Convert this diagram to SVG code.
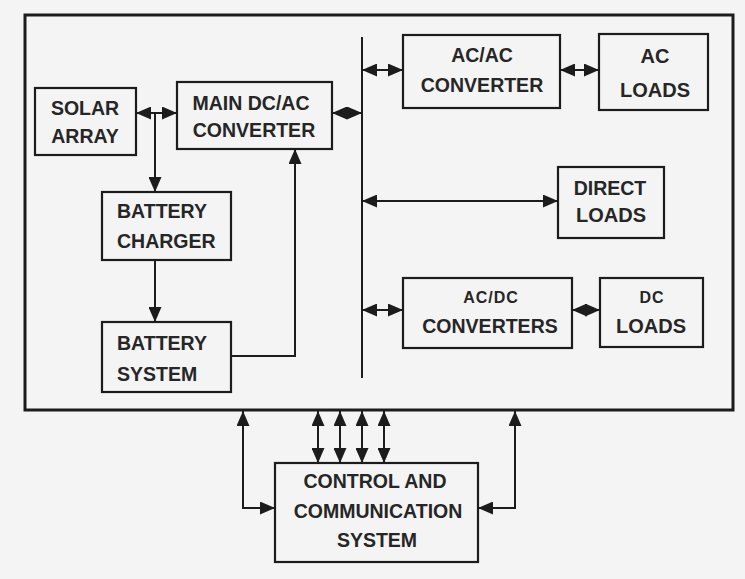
<svg xmlns="http://www.w3.org/2000/svg" width="745" height="579" viewBox="0 0 745 579">
<defs>
<marker id="ah" viewBox="0 0 15 13" refX="15" refY="6.5" markerWidth="15" markerHeight="13" markerUnits="userSpaceOnUse" orient="auto-start-reverse">
<path d="M0,0 L15,6.5 L0,13 z" fill="#1c1c1c"/>
</marker>
<style>
.box{fill:none;stroke:#1c1c1c;stroke-width:2.2}
.frame{fill:none;stroke:#1c1c1c;stroke-width:3}
.ln{fill:none;stroke:#1c1c1c;stroke-width:2}
.t{font-family:"Liberation Sans",Arial,sans-serif;font-weight:bold;font-size:19.5px;fill:#262626}
.c{text-anchor:middle}
.s{font-size:16px;letter-spacing:1px}
</style>
</defs>
<rect width="745" height="579" fill="#f4f4f4"/>
<rect class="frame" x="25" y="15" width="708" height="395"/>
<line class="ln" x1="362" y1="37" x2="362" y2="378"/>

<g id="solar"><rect class="box" x="35" y="88" width="101" height="67"/><text class="t c" x="85" y="115">SOLAR</text><text class="t c" x="85" y="143">ARRAY</text></g>
<g id="maindcac"><rect class="box" x="177" y="82" width="155" height="67"/><text class="t c" x="251" y="110">MAIN DC/AC</text><text class="t c" x="254" y="137">CONVERTER</text></g>
<g id="charger"><rect class="box" x="102" y="192" width="129" height="68"/><text class="t" x="117" y="218">BATTERY</text><text class="t" x="117" y="248">CHARGER</text></g>
<g id="battery"><rect class="box" x="102" y="322" width="129" height="70"/><text class="t" x="117" y="350">BATTERY</text><text class="t" x="117" y="381">SYSTEM</text></g>
<g id="acac"><rect class="box" x="403" y="35" width="157" height="73"/><text class="t c" x="482" y="62">AC/AC</text><text class="t c" x="482" y="92">CONVERTER</text></g>
<g id="acloads"><rect class="box" x="599" y="34" width="109" height="76"/><text class="t c" x="655" y="63" style="font-size:20px">AC</text><text class="t c" x="655" y="97" style="font-size:20px">LOADS</text></g>
<g id="directloads"><rect class="box" x="558" y="167" width="106" height="71"/><text class="t c" x="610" y="195">DIRECT</text><text class="t c" x="611" y="222" style="font-size:20px">LOADS</text></g>
<g id="acdc"><rect class="box" x="403" y="278" width="169" height="70"/><text class="t c s" x="491" y="303">AC/DC</text><text class="t c" x="490" y="333">CONVERTERS</text></g>
<g id="dcloads"><rect class="box" x="600" y="278" width="103" height="69"/><text class="t c s" x="652" y="303">DC</text><text class="t c" x="651" y="333" style="font-size:20px">LOADS</text></g>
<g id="control"><rect class="box" x="275" y="463" width="203" height="99"/><text class="t c" x="375" y="488">CONTROL AND</text><text class="t c" x="378" y="518">COMMUNICATION</text><text class="t c" x="377" y="547">SYSTEM</text></g>

<g id="connectors">
<line class="ln" x1="136" y1="113" x2="177" y2="113" marker-start="url(#ah)" marker-end="url(#ah)"/>
<line class="ln" x1="155" y1="113" x2="155" y2="192" marker-end="url(#ah)"/>
<line class="ln" x1="155" y1="260" x2="155" y2="322" marker-end="url(#ah)"/>
<polyline class="ln" points="231,356 295,356 295,149" marker-end="url(#ah)"/>
<line class="ln" x1="332" y1="113" x2="362" y2="113" marker-start="url(#ah)" marker-end="url(#ah)"/>
<line class="ln" x1="362" y1="70" x2="403" y2="70" marker-start="url(#ah)" marker-end="url(#ah)"/>
<line class="ln" x1="560" y1="70" x2="599" y2="70" marker-start="url(#ah)" marker-end="url(#ah)"/>
<line class="ln" x1="362" y1="201" x2="558" y2="201" marker-start="url(#ah)" marker-end="url(#ah)"/>
<line class="ln" x1="362" y1="310" x2="403" y2="310" marker-start="url(#ah)" marker-end="url(#ah)"/>
<line class="ln" x1="572" y1="310" x2="600" y2="310" marker-start="url(#ah)" marker-end="url(#ah)"/>
<polyline class="ln" points="243,411 243,508 275,508" marker-start="url(#ah)" marker-end="url(#ah)"/>
<polyline class="ln" points="515,411 515,508 478,508" marker-start="url(#ah)" marker-end="url(#ah)"/>
<line class="ln" x1="318" y1="411" x2="318" y2="463" marker-start="url(#ah)" marker-end="url(#ah)"/>
<line class="ln" x1="340" y1="411" x2="340" y2="463" marker-start="url(#ah)" marker-end="url(#ah)"/>
<line class="ln" x1="362" y1="411" x2="362" y2="463" marker-start="url(#ah)" marker-end="url(#ah)"/>
<line class="ln" x1="384" y1="411" x2="384" y2="463" marker-start="url(#ah)" marker-end="url(#ah)"/>
</g>
</svg>
